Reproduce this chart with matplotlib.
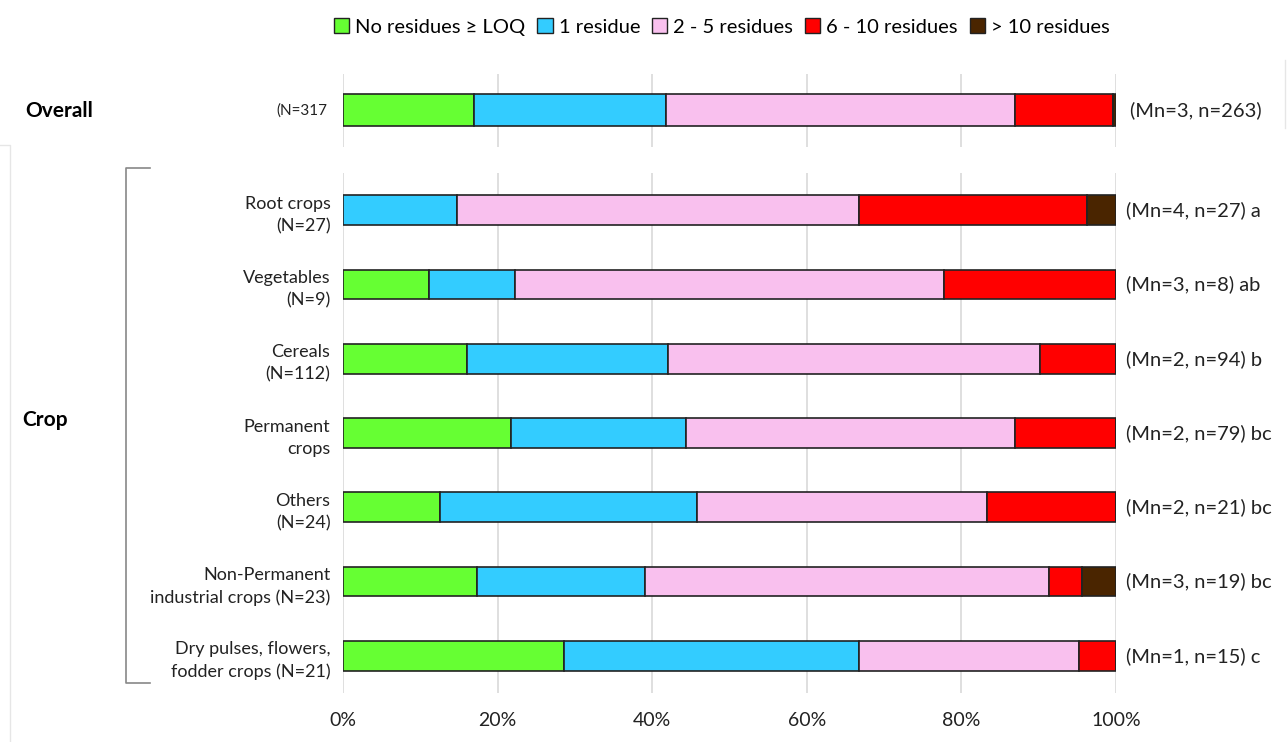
import numpy as np
import matplotlib.pyplot as plt
from matplotlib.lines import Line2D
from matplotlib.patches import Patch

plt.rcParams['font.family'] = ['Lato', 'DejaVu Sans']

# data (percent of samples per residue class)
classes = ["No residues \u2265 LOQ", "1 residue", "2 - 5 residues", "6 - 10 residues", "> 10 residues"]
colors = ["#66ff33", "#33ccff", "#f9c0ee", "#ff0000", "#4a2500"]

overall = [16.9, 24.9, 45.1, 12.7, 0.4]
overall_label = "(N=317"
overall_note = "(Mn=3, n=263)"

crops = ["Root crops\n(N=27)", "Vegetables\n(N=9)", "Cereals\n(N=112)", "Permanent\ncrops",
         "Others\n(N=24)", "Non-Permanent\nindustrial crops (N=23)", "Dry pulses, flowers,\nfodder crops (N=21)"]
no_res   = [0.0, 11.1, 16.1, 21.7, 12.5, 17.4, 28.6]
one_res  = [14.8, 11.1, 25.9, 22.7, 33.3, 21.7, 38.1]
two_five = [51.9, 55.6, 48.2, 42.5, 37.5, 52.2, 28.5]
six_ten  = [29.6, 22.2, 9.8, 13.1, 16.7, 4.3, 4.8]
over_ten = [3.7, 0.0, 0.0, 0.0, 0.0, 4.4, 0.0]
crop_notes = ["(Mn=4, n=27) a", "(Mn=3, n=8) ab", "(Mn=2, n=94) b", "(Mn=2, n=79) bc",
              "(Mn=2, n=21) bc", "(Mn=3, n=19) bc", "(Mn=1, n=15) c"]

fig = plt.figure(figsize=(12.87, 7.42), dpi=100)
ax_top = fig.add_axes([0.2665, 0.802, 0.6006, 0.0984])
ax = fig.add_axes([0.2665, 0.066, 0.6006, 0.7008])

grid_col = "#d9d9d9"
for a in (ax_top, ax):
    a.set_xlim(0, 100)
    for s in a.spines.values():
        s.set_visible(False)
    a.set_xticks([0, 20, 40, 60, 80, 100])
    a.grid(axis="x", color=grid_col, linewidth=1.2)
    a.set_axisbelow(True)
    a.tick_params(length=0)

# overall bar
left = 0
for val, c in zip(overall, colors):
    ax_top.barh(0, val, left=left, height=0.44, color=c, edgecolor="#222222", linewidth=1.2)
    left += val
ax_top.set_ylim(-0.5, 0.5)
ax_top.set_yticks([])
ax_top.set_xticklabels([])
ax_top.text(-2, 0, overall_label, ha="right", va="center", fontsize=11, color="#222222")
ax_top.text(101.8, 0, overall_note, ha="left", va="center", fontsize=14.5, color="#222222")

# crop bars
y = np.arange(len(crops))
series = [no_res, one_res, two_five, six_ten, over_ten]
lefts = np.zeros(len(crops))
for vals, c in zip(series, colors):
    vals = np.array(vals)
    ax.barh(y, vals, left=lefts, height=0.4, color=c, edgecolor="#222222", linewidth=1.2)
    lefts += vals
ax.set_ylim(6.5, -0.5)
ax.set_yticks(y)
ax.set_yticklabels(crops, fontsize=13, color="#222222", linespacing=1.5)
ax.tick_params(axis="y", pad=9)
ax.set_xticks([0, 20, 40, 60, 80, 100])
ax.set_xticklabels(["0%", "20%", "40%", "60%", "80%", "100%"], fontsize=14, color="#222222")
ax.tick_params(axis="x", pad=14)
for yi, note in zip(y, crop_notes):
    ax.text(101.3, yi, note, ha="left", va="center", fontsize=14.5, color="#222222")

# group labels and bracket
fig.text(25 / 1287, 1 - 111 / 742, "Overall", fontsize=15, fontweight="bold", va="center", ha="left")
fig.text(22 / 1287, 1 - 420 / 742, "Crop", fontsize=15, fontweight="bold", va="center", ha="left")
bx = [150 / 1287, 126 / 1287, 126 / 1287, 150 / 1287]
by = [1 - 168 / 742, 1 - 168 / 742, 1 - 683 / 742, 1 - 683 / 742]
fig.add_artist(Line2D(bx, by, color="#888888", linewidth=1.2))

# faint panel borders from the original composite
fig.add_artist(Line2D([0, 10 / 1287, 10 / 1287], [1 - 145 / 742, 1 - 145 / 742, 0],
                      color="#e6e6e6", linewidth=1))
fig.add_artist(Line2D([1285 / 1287, 1285 / 1287], [1 - 60 / 742, 1 - 128 / 742],
                      color="#e6e6e6", linewidth=1))

# legend
handles = [Patch(facecolor=c, edgecolor="#222222", linewidth=1) for c in colors]
fig.legend(handles, classes, loc="center", bbox_to_anchor=(722 / 1287, 1 - 27 / 742), ncol=5,
           frameon=False, fontsize=14.5, handlelength=0.75, handleheight=0.75,
           handletextpad=0.3, columnspacing=0.6)

fig.savefig("out.png", dpi=100)
